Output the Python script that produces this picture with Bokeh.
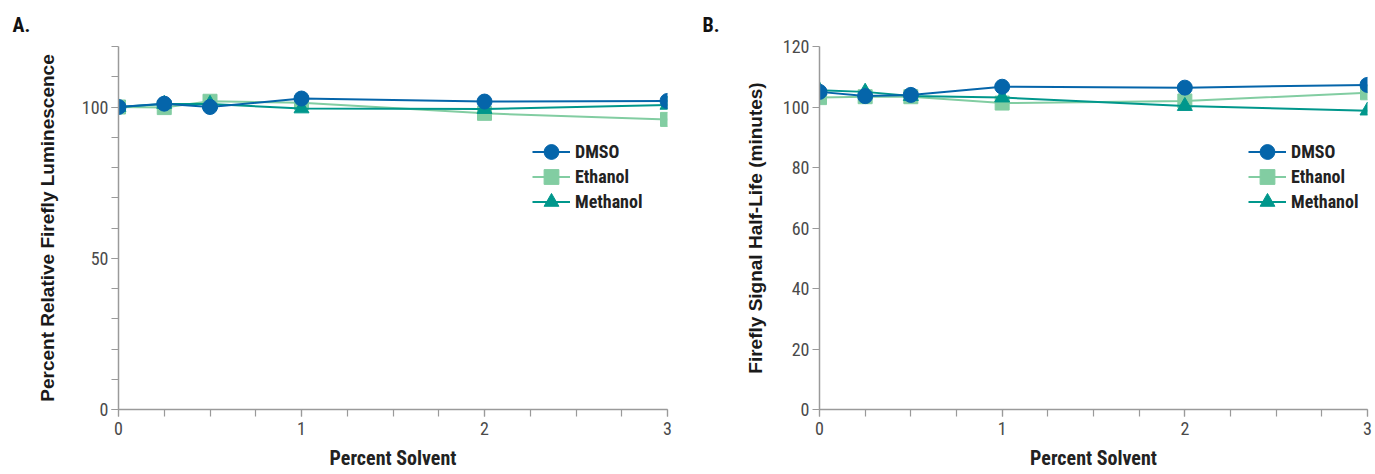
from bokeh.plotting import figure
from bokeh.layouts import row
from bokeh.models import FixedTicker, Legend, LegendItem, Range1d
from bokeh.embed import file_html
from bokeh.resources import INLINE

# ---- data ----
solvent_pct = [0, 0.25, 0.5, 1, 2, 3]

lum_dmso = [100, 101.1, 100, 102.8, 101.8, 102]
lum_ethanol = [100, 99.8, 101.9, 101.4, 97.9, 95.9]
lum_methanol = [100, 101.0, 101.0, 99.5, 99.3, 100.7]

hl_dmso = [105.0, 103.6, 104.0, 106.7, 106.4, 107.3]
hl_ethanol = [103.1, 103.4, 103.4, 101.3, 102.0, 104.7]
hl_methanol = [105.5, 105.0, 103.6, 103.1, 100.3, 98.8]

series_names = ["DMSO", "Ethanol", "Methanol"]
x_ticks = [0, 1, 2, 3]
x_minor = [0, 0.25, 0.5, 0.75, 1, 1.25, 1.5, 1.75, 2, 2.25, 2.5, 2.75, 3]
ya_ticks = [0, 50, 100]
ya_minor = [0, 10, 20, 30, 40, 50, 60, 70, 80, 90, 100, 110, 120]
yb_ticks = [0, 20, 40, 60, 80, 100, 120]

C_DMSO = "#0565AA"
C_ETH = "#82CDA2"
C_METH = "#00978C"
AXIS_C = "#9A9A9A"
COND = "Roboto Condensed"


def make(panel, ylabel, yticks, yminor, width, left, right, d, e, m, legend_x, ylab_standoff):
    p = figure(width=width, height=474, output_backend="svg", toolbar_location=None,
               x_range=Range1d(0, 3), y_range=Range1d(0, 120),
               min_border_left=left, min_border_right=right,
               min_border_top=45, min_border_bottom=65)
    p.outline_line_color = None
    p.xgrid.visible = False
    p.ygrid.visible = False

    p.title.text = panel
    p.title.text_font = COND
    p.title.text_font_style = "bold"
    p.title.text_font_size = "20px"
    p.title.text_color = "#111111"
    p.title.align = "left"
    p.title.offset = 12 - left
    p.title.standoff = 20

    rE_l = p.line(solvent_pct, e, line_color=C_ETH, line_width=2)
    rE_s = p.scatter(solvent_pct, e, marker="square", size=14, fill_color=C_ETH, line_color=C_ETH)
    rM_l = p.line(solvent_pct, m, line_color=C_METH, line_width=2)
    rM_s = p.scatter(solvent_pct, m, marker="triangle", size=15, fill_color=C_METH, line_color=C_METH)
    rD_l = p.line(solvent_pct, d, line_color=C_DMSO, line_width=2)
    rD_s = p.scatter(solvent_pct, d, marker="circle", size=15, fill_color=C_DMSO, line_color=C_DMSO)

    for ax in (p.xaxis[0], p.yaxis[0]):
        ax.axis_line_color = AXIS_C
        ax.axis_line_width = 1.5
        ax.major_tick_line_color = AXIS_C
        ax.minor_tick_line_color = AXIS_C
        ax.major_tick_line_width = 1.2
        ax.minor_tick_line_width = 1.2
        ax.major_tick_in = 0
        ax.minor_tick_in = 0
        ax.major_tick_out = 7
        ax.minor_tick_out = 7
        ax.major_label_text_font = COND
        ax.major_label_text_font_size = "18px"
        ax.major_label_text_color = "#4a4a4a"

    xa = p.xaxis[0]
    xa.ticker = FixedTicker(ticks=x_ticks, minor_ticks=x_minor)
    xa.major_label_standoff = 5
    xa.axis_label = "Percent Solvent"
    xa.axis_label_text_font = COND
    xa.axis_label_text_font_style = "bold"
    xa.axis_label_text_font_size = "20px"
    xa.axis_label_text_color = "#222222"
    xa.axis_label_standoff = 8

    ya = p.yaxis[0]
    ya.ticker = FixedTicker(ticks=yticks, minor_ticks=yminor)
    ya.major_label_standoff = 3
    ya.axis_label = ylabel
    ya.axis_label_text_font = "Liberation Sans"
    ya.axis_label_text_font_style = "bold"
    ya.axis_label_text_font_size = "19px"
    ya.axis_label_text_color = "#1a1a1a"
    ya.axis_label_standoff = ylab_standoff

    groups = [[rD_l, rD_s], [rE_l, rE_s], [rM_l, rM_s]]
    for i, (name, rs) in enumerate(zip(series_names, groups)):
        lg = Legend(items=[LegendItem(label=name, renderers=rs)],
                    location=(legend_x, 409 - 152 - 18 - 25 * i))
        lg.border_line_color = None
        lg.background_fill_alpha = 0
        lg.padding = 0
        lg.margin = 0
        lg.glyph_width = 38
        lg.glyph_height = 37
        lg.label_height = 37
        lg.label_standoff = 5
        lg.label_text_font = COND
        lg.label_text_font_style = "bold"
        lg.label_text_font_size = "18px"
        lg.label_text_color = "#222222"
        p.add_layout(lg, "center")
    return p


pA = make("A.", "Percent Relative Firefly Luminescence", ya_ticks, ya_minor, 690, 118, 23,
          lum_dmso, lum_ethanol, lum_methanol, 414, 21)
pB = make("B.", "Firefly Signal Half-Life (minutes)", yb_ticks, [], 685, 129, 8,
          hl_dmso, hl_ethanol, hl_methanol, 429, 14)

layout = row(pA, pB)
open("out.html", "w").write(file_html(layout, INLINE))
